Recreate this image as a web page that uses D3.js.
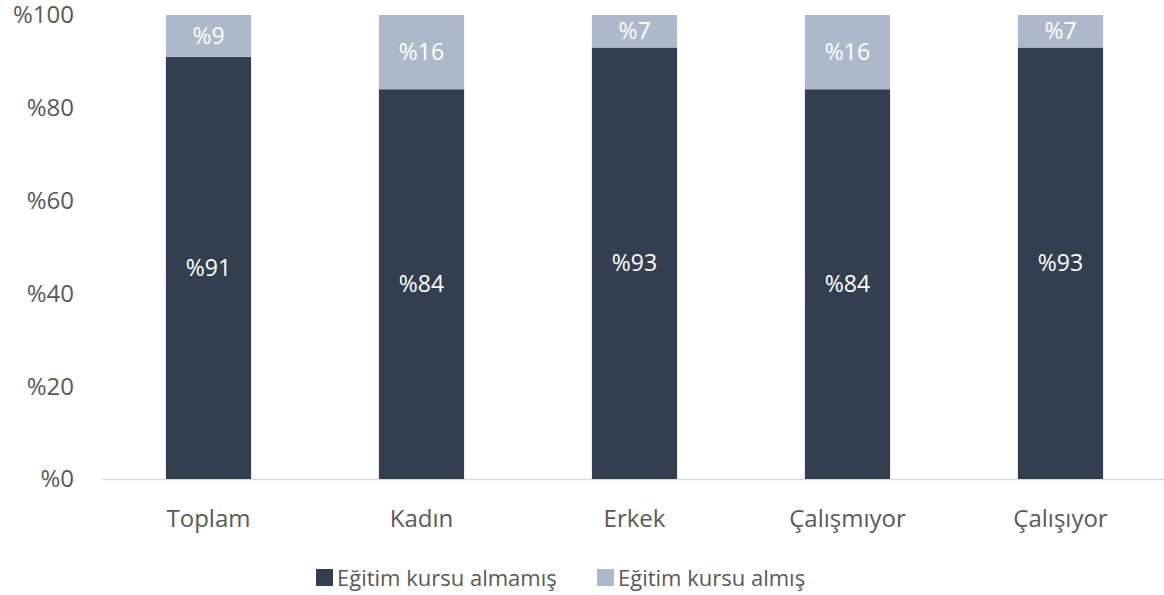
<!DOCTYPE html>
<html><head><meta charset="utf-8">
<script src="https://cdn.jsdelivr.net/npm/d3@7"></script>
<style>body{margin:0;background:#fff}svg{display:block;font-family:"Open Sans",sans-serif}</style>
</head><body>
<svg id="c" width="1164" height="595"></svg>
<script>
const categories = ["Toplam","Kadın","Erkek","Çalışmıyor","Çalışıyor"];
const notTaken = [91,84,93,84,93];
const taken = [9,16,7,16,7];
const seriesNames = ["Eğitim kursu almamış","Eğitim kursu almış"];
const yTicks = [0,20,40,60,80,100];
const colors = ["#333F50","#ADB9CA"];

const svg = d3.select("#c");
const x = d3.scaleBand().domain(categories).range([102,1167]).paddingInner(0.6).paddingOuter(0.3);
const y = d3.scaleLinear().domain([0,100]).range([479,15]);

svg.append("line").attr("x1",102).attr("x2",1164).attr("y1",y(0)+0.5).attr("y2",y(0)+0.5)
  .attr("stroke","#D9D9D9").attr("stroke-width",1.5);

svg.append("g").selectAll("text").data(yTicks).join("text")
  .attr("x",74).attr("y",d=>y(d)).attr("dy","0.35em").attr("text-anchor","end")
  .attr("font-size",24).attr("fill","#595959").text(d=>"%"+d);

const data = categories.map((c,i)=>({c, a:notTaken[i], b:taken[i]}));
const g = svg.append("g");
data.forEach(d=>{
  g.append("rect").attr("x",x(d.c)).attr("width",x.bandwidth())
    .attr("y",y(d.a)).attr("height",y(0)-y(d.a)).attr("fill",colors[0]);
  g.append("rect").attr("x",x(d.c)).attr("width",x.bandwidth())
    .attr("y",y(d.a+d.b)).attr("height",y(d.a)-y(d.a+d.b)).attr("fill",colors[1]);
  g.append("text").attr("x",x(d.c)+x.bandwidth()/2).attr("y",(y(0)+y(d.a))/2).attr("dy","0.35em")
    .attr("text-anchor","middle").attr("font-size",23).attr("fill","#fff").text("%"+d.a);
  g.append("text").attr("x",x(d.c)+x.bandwidth()/2).attr("y",(y(d.a)+y(d.a+d.b))/2).attr("dy","0.35em")
    .attr("text-anchor","middle").attr("font-size",23).attr("fill","#fff").text("%"+d.b);
});

svg.append("g").selectAll("text").data(categories).join("text")
  .attr("x",d=>x(d)+x.bandwidth()/2).attr("y",519).attr("dy","0.35em").attr("text-anchor","middle")
  .attr("font-size",24).attr("fill","#595959").text(d=>d);

const leg = [{x:316},{x:597}];
seriesNames.forEach((n,i)=>{
  svg.append("rect").attr("x",leg[i].x).attr("y",569).attr("width",17).attr("height",17).attr("fill",colors[i]);
  svg.append("text").attr("x",leg[i].x+21).attr("y",578).attr("dy","0.35em")
    .attr("font-size",22).attr("fill","#595959").text(n);
});
</script>
</body></html>
